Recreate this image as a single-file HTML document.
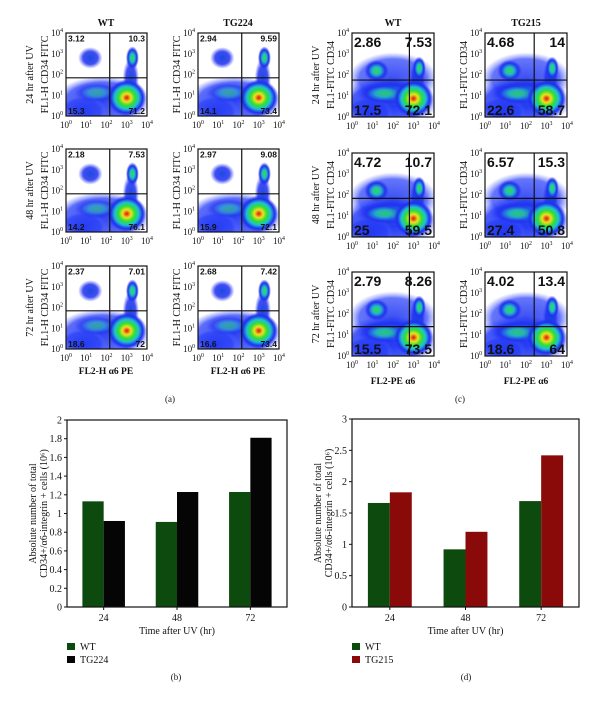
<!DOCTYPE html>
<html><head><meta charset="utf-8"><style>
html,body{margin:0;padding:0;background:#fff}
svg{display:block}
text{font-family:"Liberation Serif",serif;fill:#111}
</style></head><body>
<svg id="fig" width="600" height="705" viewBox="0 0 600 705" xmlns="http://www.w3.org/2000/svg">
<defs>
<radialGradient id="rainbow"><stop offset="0" stop-color="#e01010"/><stop offset="0.22" stop-color="#f0e020"/><stop offset="0.42" stop-color="#30e030"/><stop offset="0.62" stop-color="#20c0d0"/><stop offset="0.82" stop-color="#2030f0"/><stop offset="1" stop-color="#2030f0" stop-opacity="0"/></radialGradient>
<radialGradient id="greenb"><stop offset="0" stop-color="#30e040"/><stop offset="0.35" stop-color="#20c0c0"/><stop offset="0.7" stop-color="#2030f0"/><stop offset="1" stop-color="#2030f0" stop-opacity="0"/></radialGradient>
<radialGradient id="blueb"><stop offset="0" stop-color="#1040e0"/><stop offset="0.6" stop-color="#2030f0" stop-opacity="0.9"/><stop offset="1" stop-color="#3040ff" stop-opacity="0"/></radialGradient>
<radialGradient id="haze"><stop offset="0" stop-color="#1830f0"/><stop offset="0.75" stop-color="#2a40f8" stop-opacity="0.85"/><stop offset="1" stop-color="#6070ff" stop-opacity="0"/></radialGradient>
</defs>
</svg>
<script>
// ---- bar chart data ----
const timeCategories = ["24", "48", "72"];
const wtB = [1.13, 0.91, 1.23];
const tg224 = [0.92, 1.23, 1.81];
const yTicksB = [0, 0.2, 0.4, 0.6, 0.8, 1, 1.2, 1.4, 1.6, 1.8, 2];
const wtD = [1.66, 0.92, 1.69];
const tg215 = [1.83, 1.2, 2.42];
const yTicksD = [0, 0.5, 1, 1.5, 2, 2.5, 3];
// ---- flow quadrant percentages [UL, UR, LL, LR] ----
const flowA = [["3.12","10.3","15.3","71.2"],["2.94","9.59","14.1","73.4"],["2.18","7.53","14.2","76.1"],["2.97","9.08","15.9","72.1"],["2.37","7.01","18.6","72"],["2.68","7.42","16.6","73.4"]];
const flowC = [["2.86","7.53","17.5","72.1"],["4.68","14","22.6","58.7"],["4.72","10.7","25","59.5"],["6.57","15.3","27.4","50.8"],["2.79","8.26","15.5","73.5"],["4.02","13.4","18.6","64"]];
const decadeLabels = ["0","1","2","3","4"];

const NS = "http://www.w3.org/2000/svg";
const svg = document.getElementById("fig");
function mk(tag, attrs, parent) {
  const e = document.createElementNS(NS, tag);
  for (const k in attrs) e.setAttribute(k, attrs[k]);
  (parent || svg).appendChild(e);
  return e;
}
function txt(x, y, s, size, parent, extra) {
  const t = mk("text", Object.assign({x: x, y: y, "font-size": size, "text-anchor": "middle"}, extra || {}), parent);
  t.textContent = s;
  return t;
}
function pow10(x, y, e, size, parent, anchor) {
  const t = mk("text", {x: x, y: y, "font-size": size, "text-anchor": anchor || "middle"}, parent);
  t.appendChild(document.createTextNode("10"));
  const sp = document.createElementNS(NS, "tspan");
  sp.setAttribute("dy", -4);
  sp.setAttribute("font-size", size * 0.65);
  sp.textContent = e;
  t.appendChild(sp);
  return t;
}

function flowPlot(x0, y0, w, h, gateX, gateY, vals, big, ylab, rowlab, idx) {
  const g = mk("g", {});
  
  
  const cl = mk("clipPath", {id: "cp" + idx}, g);
  mk("rect", {x: x0, y: y0, width: w, height: h}, cl);
  const b = mk("g", {"clip-path": "url(#cp" + idx + ")"}, g);
  const E = (fx, fy, rx, ry, fill, op) => mk("ellipse", {cx: x0 + fx * w, cy: y0 + fy * h, rx: rx * w, ry: ry * h, fill: "url(#" + fill + ")", opacity: op || 1}, b);
  E(0.45, 0.82, 0.6, 0.3, "haze", big ? 1 : 0.9);
  E(0.2, 0.95, 0.3, 0.2, "haze", 0.8);
  if (big) { E(0.5, 0.55, 0.55, 0.32, "haze", 0.85); E(0.45, 0.72, 0.4, 0.14, "greenb", 0.7); }
  E(0.38, 0.72, 0.28, 0.12, "greenb", 0.55);
  E(0.3, big ? 0.45 : 0.3, 0.15, 0.13, big ? "greenb" : "blueb", 0.95);
  E(0.8, 0.55, 0.1, 0.25, "blueb", 0.95);
  E(0.82, big ? 0.42 : 0.3, 0.08, 0.14, "greenb");
  E(0.75, 0.78, 0.24, 0.22, "rainbow");
  mk("rect", {x: x0, y: y0, width: w, height: h, fill: "none", stroke: "#111", "stroke-width": 1.2}, g);
  mk("line", {x1: x0 + gateX * w, y1: y0, x2: x0 + gateX * w, y2: y0 + h, stroke: "#111", "stroke-width": 1.2}, g);
  mk("line", {x1: x0, y1: y0 + gateY * h, x2: x0 + w, y2: y0 + gateY * h, stroke: "#111", "stroke-width": 1.2}, g);
  const fs = big ? 14 : 8.5;
  const ex = {style: "font-family:'Liberation Sans',sans-serif;font-weight:bold"};
  txt(x0 + 2, y0 + fs, vals[0], fs, g, Object.assign({"text-anchor": "start"}, ex));
  txt(x0 + w - 2, y0 + fs, vals[1], fs, g, Object.assign({"text-anchor": "end"}, ex));
  txt(x0 + 2, y0 + h - 2, vals[2], fs, g, Object.assign({"text-anchor": "start"}, ex));
  txt(x0 + w - 2, y0 + h - 2, vals[3], fs, g, Object.assign({"text-anchor": "end"}, ex));
  for (let i = 0; i < 5; i++) {
    pow10(x0 + i * w / 4, y0 + h + 12, decadeLabels[i], 9, g);
    pow10(x0 - 3, y0 + h - i * h / 4 + 3, decadeLabels[i], 9, g, "end");
  }
  const yl = txt(x0 - 18, y0 + h / 2, ylab, 10, g, {transform: "rotate(-90 " + (x0 - 18) + " " + (y0 + h / 2) + ")"});
  
  
  if (rowlab) {
    const rl = txt(x0 - 33, y0 + h / 2, rowlab, 10, g, {transform: "rotate(-90 " + (x0 - 33) + " " + (y0 + h / 2) + ")"});
    
    
  }
}
const rowNames = ["24 hr after UV", "48 hr after UV", "72 hr after UV"];
const rowsA = [33, 149, 266];
const rowsC = [33, 153, 272];
const gateC = [0.56, 0.54, 0.65];
for (let r = 0; r < 3; r++) {
  flowPlot(66, rowsA[r], 81, 83, 0.54, 0.54, flowA[r * 2], false, "FL1-H CD34 FITC", rowNames[r], "a" + r + "0");
  flowPlot(198, rowsA[r], 81, 83, 0.54, 0.54, flowA[r * 2 + 1], false, "FL1-H CD34 FITC", null, "a" + r + "1");
  flowPlot(352, rowsC[r], 82, 84, 0.7, gateC[r], flowC[r * 2], true, "FL1-FITC CD34", rowNames[r], "c" + r + "0");
  flowPlot(485, rowsC[r], 82, 84, 0.6, gateC[r], flowC[r * 2 + 1], true, "FL1-FITC CD34", null, "c" + r + "1");
}
const colTitles = [[106, "WT"], [238, "TG224"], [393, "WT"], [526, "TG215"]];
colTitles.forEach(c => {
  const t = txt(c[0], 26, c[1], 10, svg, {"font-weight": "bold"});
  
  
});
[[106, "FL2-H α6 PE"], [238, "FL2-H α6 PE"], [393, "FL2-PE α6"], [526, "FL2-PE α6"]].forEach(c => {
  const y = c[0] > 300 ? 384 : 374;
  const t = txt(c[0], y, c[1], 9.5, svg, {"font-weight": "bold"});
  
  
});
[[170, 402, "(a)"], [460, 402, "(c)"], [176, 680, "(b)"], [466, 680, "(d)"]].forEach(c => {
  const t = txt(c[0], c[1], c[2], 9);
  
  
});

function barChart(L, R, T, B, ymax, ticks, s1, s2, c2, name2, id) {
  const g = mk("g", {});
  
  
  const yS = v => B - v / ymax * (B - T);
  const gw = (R - L) / timeCategories.length;
  const bw = gw * 0.29;
  timeCategories.forEach((cat, i) => {
    const cx = L + gw * (i + 0.5);
    const r1 = mk("rect", {x: cx - bw, y: yS(s1[i]), width: bw, height: B - yS(s1[i]), fill: "#0d4a0d"}, g);
    
    
    const r2 = mk("rect", {x: cx, y: yS(s2[i]), width: bw, height: B - yS(s2[i]), fill: c2}, g);
    
    
    mk("line", {x1: cx, y1: B, x2: cx, y2: B + 3, stroke: "#111"}, g);
    txt(cx, B + 14, cat, 10, g);
  });
  mk("rect", {x: L, y: T, width: R - L, height: B - T, fill: "none", stroke: "#111", "stroke-width": 1.2}, g);
  ticks.forEach(v => {
    mk("line", {x1: L - 3, y1: yS(v), x2: L, y2: yS(v), stroke: "#111"}, g);
    txt(L - 5, yS(v) + 3.5, String(v), 10, g, {"text-anchor": "end"});
  });
  const xt = txt((L + R) / 2, B + 27, "Time after UV (hr)", 10, g);
  
  
  const my = (T + B) / 2;
  const a = txt(L - 31, my, "Absolute number of total", 10, g, {transform: "rotate(-90 " + (L - 31) + " " + my + ")"});
  
  
  const b2 = txt(L - 20, my, "CD34+/α6-integrin + cells (10⁶)", 10, g, {transform: "rotate(-90 " + (L - 20) + " " + my + ")"});
  
  
  [["WT", "#0d4a0d"], [name2, c2]].forEach((e, i) => {
    const lg = mk("g", {}, g);
    
    
    mk("rect", {x: L - 0, y: 643 + i * 13, width: 8, height: 7, fill: e[1]}, lg);
    txt(L + 13, 650 + i * 13, e[0], 10, lg, {"text-anchor": "start"});
  });
}
barChart(67, 287, 420, 607, 2, yTicksB, wtB, tg224, "#050505", "TG224", "b");
barChart(352, 579, 419, 607, 3, yTicksD, wtD, tg215, "#8a0a0a", "TG215", "d");
</script>
</body></html>
